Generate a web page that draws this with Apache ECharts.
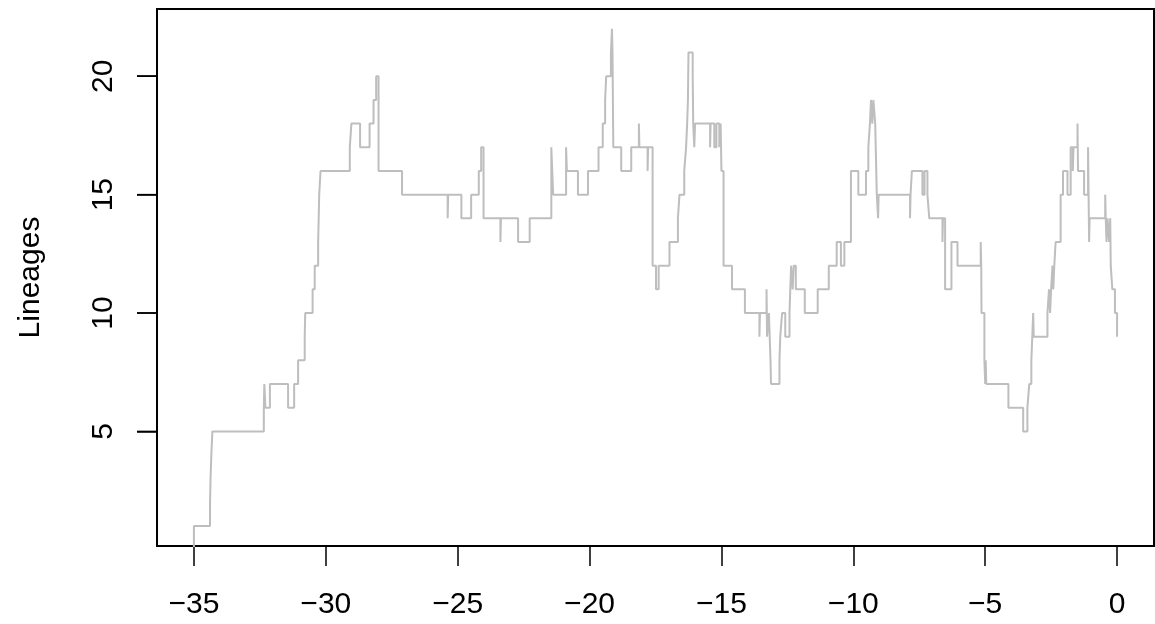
<!DOCTYPE html>
<html>
<head>
<meta charset="utf-8">
<script src="https://cdn.jsdelivr.net/npm/echarts@6/dist/echarts.min.js"></script>
<style>
    html, body {margin: 0; padding: 0; background: #fff;}
    #chart {width: 1155px; height: 624px;}
</style>
</head>
<body>
<div id="chart"></div>
<script>
// branching times (time before present) and lineages after each event
var eventTimes = [
    -35, -35, -34.39, -34.37, -34.34, -34.30,
    -32.35, -32.33, -32.29, -32.12, -31.43, -31.20, -31.05,
    -30.80, -30.78, -30.50, -30.42, -30.29, -30.27, -30.25, -30.20,
    -29.09, -29.03, -28.70, -28.34, -28.19, -28.09, -28.00, -27.11,
    -25.38, -25.36, -24.86, -24.49, -24.20, -24.11, -24.02,
    -23.38, -23.36, -22.71, -22.27, -21.45, -21.38,
    -20.89, -20.86, -20.44, -20.06, -19.66, -19.50, -19.41, -19.37,
    -19.19, -19.15, -19.13, -19.10, -18.80, -18.42, -18.13, -18.11,
    -17.80, -17.78, -17.61, -17.48, -17.38,
    -16.97, -16.65, -16.59, -16.41, -16.34, -16.30, -16.27, -16.26, -16.25,
    -16.09, -16.07, -16.03, -16.00,
    -15.43, -15.41, -15.27, -15.19, -15.08, -15.03, -15.00, -14.92,
    -14.60, -14.11, -13.56, -13.54, -13.29, -13.27, -13.20, -13.14, -13.12,
    -12.80, -12.77, -12.70, -12.58, -12.42, -12.36, -12.30, -12.26, -12.18,
    -11.84, -11.35, -10.93, -10.63, -10.47, -10.34, -10.09,
    -9.81, -9.52, -9.43, -9.37, -9.33, -9.28, -9.24, -9.17, -9.15, -9.11,
    -9.06, -9.04, -7.85, -7.83, -7.78, -7.38, -7.30, -7.19, -7.12,
    -6.62, -6.60, -6.52, -6.28, -6.05, -5.17, -5.15, -5.14, -5.03,
    -5.00, -4.98, -4.96, -4.12, -3.56, -3.40, -3.33, -3.25, -3.18, -3.16,
    -2.64, -2.58, -2.54, -2.50, -2.45, -2.42, -2.38, -2.33, -2.14, -2.05,
    -1.88, -1.76, -1.68, -1.65, -1.50, -1.48, -1.25, -1.10, -1.08, -1.06, -1.04,
    -0.45, -0.43, -0.40, -0.36, -0.30, -0.26, -0.24, -0.18, -0.08, 0
];
var lineages = [
    0, 1, 2, 3, 4, 5,
    6, 7, 6, 7, 6, 7, 8,
    9, 10, 11, 12, 13, 14, 15, 16,
    17, 18, 17, 18, 19, 20, 16, 15,
    14, 15, 14, 15, 16, 17, 14,
    13, 14, 13, 14, 17, 15,
    17, 16, 15, 16, 17, 18, 19, 20,
    21, 22, 21, 17, 16, 17, 18, 17,
    16, 17, 12, 11, 12,
    13, 14, 15, 16, 17, 18, 19, 20, 21,
    20, 18, 17, 18,
    17, 18, 17, 18, 17, 18, 16, 12,
    11, 10, 9, 10, 11, 9, 10, 8, 7,
    8, 9, 10, 9, 10, 12, 11, 12, 11,
    10, 11, 12, 13, 12, 13, 16,
    15, 16, 17, 18, 19, 18, 19, 18, 17, 15,
    14, 15, 14, 15, 16, 15, 16, 15, 14,
    13, 14, 11, 13, 12, 13, 12, 10, 8,
    7, 8, 7, 6, 5, 6, 7, 8, 10, 9,
    10, 11, 10, 11, 12, 11, 12, 13, 15, 16,
    15, 17, 16, 17, 18, 16, 15, 17, 15, 13, 14,
    15, 14, 13, 14, 13, 14, 12, 11, 10, 9
];
var xTicks = [-35, -30, -25, -20, -15, -10, -5, 0];
var yTicks = [5, 10, 15, 20];

var xMin = -36.4, xMax = 1.4;
var yMin = 0.16, yMax = 22.84;

var lttData = eventTimes.map(function (t, i) {
    return [t, lineages[i]];
});

var myChart = echarts.init(document.getElementById('chart'));
var labelFont = {fontFamily: '"Liberation Sans", Arial, sans-serif', fontSize: 30, color: '#000'};

myChart.setOption({
    animation: false,
    grid: {
        left: 157, right: 1, top: 9, bottom: 78,
        show: true,
        borderColor: '#000',
        borderWidth: 2
    },
    xAxis: {
        type: 'value',
        min: xMin,
        max: xMax,
        splitLine: {show: false},
        axisLine: {show: true, onZero: false, lineStyle: {color: '#000'}},
        axisTick: {
            show: true, customValues: xTicks, length: 20,
            lineStyle: {color: '#000', width: 1.5}
        },
        axisLabel: Object.assign({
            customValues: xTicks,
            margin: 44,
            formatter: function (v) {
                return String(v).replace('-', '\u2212');
            }
        }, labelFont)
    },
    yAxis: {
        type: 'value',
        min: yMin,
        max: yMax,
        name: 'Lineages',
        nameLocation: 'middle',
        nameRotate: 90,
        nameGap: 111,
        nameTextStyle: Object.assign({}, labelFont),
        splitLine: {show: false},
        axisLine: {show: true, onZero: false, lineStyle: {color: '#000'}},
        axisTick: {
            show: true, customValues: yTicks, length: 20,
            lineStyle: {color: '#000', width: 1.5}
        },
        axisLabel: Object.assign({
            customValues: yTicks,
            rotate: 90,
            margin: 38
        }, labelFont)
    },
    series: [{
        type: 'line',
        step: 'end',
        data: lttData,
        showSymbol: false,
        lineStyle: {color: '#bebebe', width: 2}
    }, {
        // y tick marks, placed through the axis scale at the left edge
        type: 'custom',
        silent: true,
        clip: false,
        z: 10,
        data: yTicks.map(function (v) { return [xMin, v]; }),
        renderItem: function (params, api) {
            var p = api.coord([api.value(0), api.value(1)]);
            return {
                type: 'line',
                shape: {x1: p[0] - 20, y1: p[1], x2: p[0], y2: p[1]},
                style: {stroke: '#000', lineWidth: 1.5}
            };
        }
    }]
});
</script>
</body>
</html>
